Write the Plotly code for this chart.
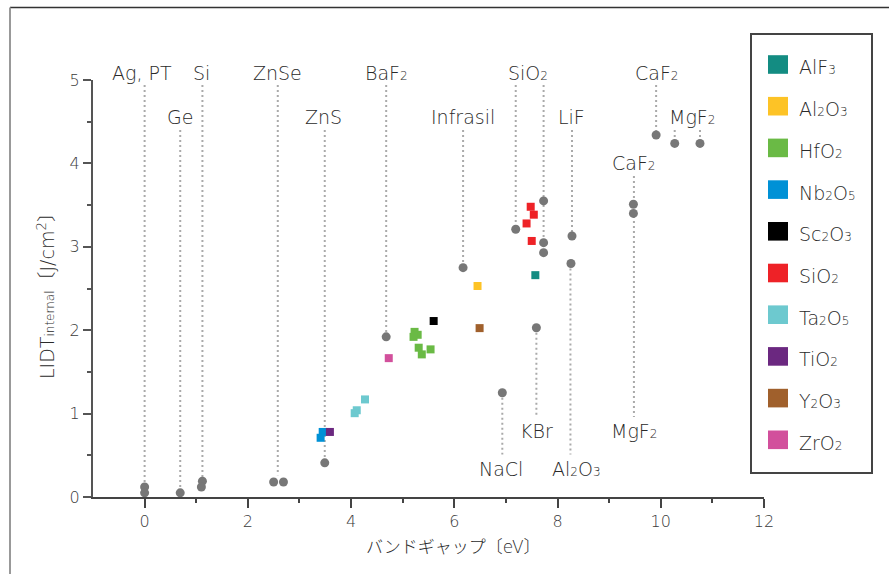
import plotly.graph_objects as go

# ---------------- data ----------------
# substrate materials (gray circles): band gap [eV], LIDT [J/cm2]
sub_x = [0.0, 0.0, 0.69, 1.12, 1.10, 2.50, 2.69, 3.49, 4.68, 6.17, 6.93, 7.19,
         7.73, 7.73, 7.73, 7.59, 8.28, 8.26, 9.47, 9.47, 9.91, 10.27, 10.76]
sub_y = [0.12, 0.05, 0.05, 0.19, 0.12, 0.18, 0.18, 0.41, 1.92, 2.75, 1.25, 3.21,
         3.55, 3.05, 2.93, 2.03, 3.13, 2.80, 3.51, 3.40, 4.34, 4.24, 4.24]

# coating materials (colored squares)
coat_names = ["AlF3", "Al2O3", "HfO2", "Nb2O5", "Sc2O3", "SiO2", "Ta2O5", "TiO2", "Y2O3", "ZrO2"]
coat_colors = ["#138c82", "#fdc326", "#6aba45", "#0091d6", "#000000",
               "#ee2227", "#6dc9cf", "#6b2880", "#a0602c", "#d2509c"]
coat_x = [[7.57], [6.45], [5.23, 5.29, 5.21, 5.31, 5.37, 5.54], [3.45, 3.41], [5.60],
          [7.48, 7.54, 7.40, 7.50], [4.27, 4.11, 4.07], [3.59], [6.49], [4.73]]
coat_y = [[2.66], [2.53], [1.98, 1.945, 1.92, 1.79, 1.71, 1.77], [0.78, 0.71], [2.11],
          [3.48, 3.385, 3.28, 3.07], [1.17, 1.04, 1.005], [0.78], [2.025], [1.665]]

# substrate name labels
label_text = ["Ag, PT", "Si", "ZnSe", "BaF2", "SiO2", "CaF2",
              "Ge", "ZnS", "Infrasil", "LiF", "MgF2",
              "CaF2", "KBr", "MgF2", "NaCl", "Al2O3"]
label_x = [-0.06, 1.11, 2.58, 4.68, 7.43, 9.91,
           0.69, 3.47, 6.17, 8.28, 10.61,
           9.47, 7.59, 9.48, 6.90, 8.36]
label_y = [5.08, 5.08, 5.08, 5.08, 5.08, 5.08,
           4.56, 4.56, 4.56, 4.56, 4.56,
           4.01, 0.79, 0.79, 0.34, 0.34]

# dotted leader lines: x, upper end, lower end
leader_x = [0.0, 0.69, 1.12, 2.58, 3.49, 4.68, 6.17, 7.19, 7.73, 8.28, 9.91,
            10.27, 10.76, 9.48, 6.93, 7.59, 8.25]
leader_top = [4.94, 4.40, 4.94, 4.94, 4.40, 4.94, 4.40, 4.94, 4.94, 4.40, 4.94,
              4.40, 4.40, 3.85, 1.25, 2.03, 2.80]
leader_bottom = [0.12, 0.05, 0.19, 0.26, 0.41, 1.92, 2.75, 3.21, 2.93, 3.13, 4.34,
                 4.24, 4.24, 0.96, 0.51, 0.96, 0.51]

x_ticks = [0, 2, 4, 6, 8, 10, 12]
y_ticks = [0, 1, 2, 3, 4, 5]
X_RANGE = [-1, 12]
Y_RANGE = [0, 5]

# ---------------- helpers ----------------
FONT = "DejaVu Sans, Noto Sans CJK JP, sans-serif"
TXT = "#2a2a2a"
W, H = 889, 574
ML, MR, MT, MB = 93, 125, 80, 77
PW, PH = W - ML - MR, H - MT - MB


def px(x):
    return (x - ML) / PW


def py(y):
    return (H - MB - y) / PH


def dx(v):  # data x -> paper (linear axis)
    return (v - X_RANGE[0]) / (X_RANGE[1] - X_RANGE[0])


def dy(v):  # data y -> paper (linear axis)
    return (v - Y_RANGE[0]) / (Y_RANGE[1] - Y_RANGE[0])


def chem(name, sub_px):
    out = ""
    for ch in name:
        if ch.isdigit():
            out += f'<span style="font-size:{sub_px}px">{ch}</span>'
        else:
            out += ch
    return out


fig = go.Figure()

# leader lines
lx, ly = [], []
for x, t, b in zip(leader_x, leader_top, leader_bottom):
    lx += [x, x, None]
    ly += [t, b, None]
fig.add_trace(go.Scatter(x=lx, y=ly, mode="lines", hoverinfo="skip", showlegend=False,
                         line=dict(color="#aaaaaa", width=2, dash="2px,3px")))

# substrates
fig.add_trace(go.Scatter(x=sub_x, y=sub_y, mode="markers", showlegend=False, name="substrate",
                         marker=dict(symbol="circle", size=9, color="#777777")))

# coatings
for name, col, xs, ys in zip(coat_names, coat_colors, coat_x, coat_y):
    fig.add_trace(go.Scatter(x=xs, y=ys, mode="markers", name=name, showlegend=False,
                             marker=dict(symbol="square", size=8, color=col)))

annotations = []
for t, x, y in zip(label_text, label_x, label_y):
    annotations.append(dict(x=dx(x), y=dy(y), xref="paper", yref="paper", text=chem(t, 12),
                            showarrow=False, xanchor="center", yanchor="middle",
                            font=dict(family=FONT, size=19, color=TXT, weight=300)))

# axis titles
annotations.append(dict(x=px(453), y=py(547), xref="paper", yref="paper",
                        xanchor="center", yanchor="middle",
                        text="バンドギャップ〔eV〕", showarrow=False,
                        font=dict(family=FONT, size=17, color=TXT, weight=300)))
annotations.append(dict(x=px(46), y=py(291), xref="paper", yref="paper", textangle=-90,
                        xanchor="center", yanchor="middle",
                        text='LIDT<span style="font-size:12px">internal</span>〔J/cm<sup>2</sup>〕',
                        showarrow=False,
                        font=dict(family=FONT, size=19, color=TXT, weight=300)))

shapes = []
# outer frame lines
shapes.append(dict(type="line", xref="paper", yref="paper", x0=px(10), x1=px(889),
                   y0=py(7.5), y1=py(7.5), line=dict(color="#333333", width=1.5)))
shapes.append(dict(type="line", xref="paper", yref="paper", x0=px(10), x1=px(10),
                   y0=py(7.5), y1=py(574), line=dict(color="#999999", width=2)))

# legend box (manual)
shapes.append(dict(type="rect", xref="paper", yref="paper", x0=px(751), x1=px(872),
                   y0=py(34), y1=py(473), line=dict(color="#444444", width=2),
                   fillcolor="rgba(0,0,0,0)"))
for i, (name, col) in enumerate(zip(coat_names, coat_colors)):
    cy = 64.5 + 41.7 * i
    shapes.append(dict(type="rect", xref="paper", yref="paper", x0=px(768), x1=px(788),
                       y0=py(cy - 9.3), y1=py(cy + 9.3), line=dict(width=0), fillcolor=col))
    annotations.append(dict(x=px(797), y=py(cy + 3), xref="paper", yref="paper",
                            text=chem(name, 12), showarrow=False, xanchor="left",
                            yanchor="middle",
                            font=dict(family=FONT, size=19, color=TXT, weight=300)))

fig.update_layout(
    width=W, height=H,
    margin=dict(l=ML, r=MR, t=MT, b=MB, autoexpand=False),
    paper_bgcolor="white", plot_bgcolor="white",
    showlegend=False,
    annotations=annotations, shapes=shapes,
    xaxis=dict(range=X_RANGE, tickvals=x_ticks, ticktext=[str(v) for v in x_ticks],
               showgrid=False, zeroline=False, showline=True, linecolor="#444444",
               linewidth=2, ticks="outside", ticklen=9, tickwidth=1.5, tickcolor="#444444",
               minor=dict(tickvals=[1, 3, 5, 7, 9, 11], ticks="outside", ticklen=4,
                          tickwidth=1.5, tickcolor="#444444"),
               tickfont=dict(family=FONT, size=16, color="#3a3a3a", weight=300),
               automargin=False),
    yaxis=dict(range=Y_RANGE, tickvals=y_ticks, ticktext=[str(v) for v in y_ticks],
               showgrid=False, zeroline=False, showline=True, linecolor="#555555",
               linewidth=2, ticks="outside", ticklen=8, tickwidth=1.5, tickcolor="#555555",
               minor=dict(tickvals=[0.5, 1.5, 2.5, 3.5, 4.5], ticks="outside", ticklen=4,
                          tickwidth=1.5, tickcolor="#555555"),
               tickfont=dict(family=FONT, size=16, color="#3a3a3a", weight=300),
               automargin=False),
)

fig.write_html("out.html", config={"displayModeBar": False},
               post_script="document.body.style.margin='0';"
                           "document.body.style.overflow='hidden';")
